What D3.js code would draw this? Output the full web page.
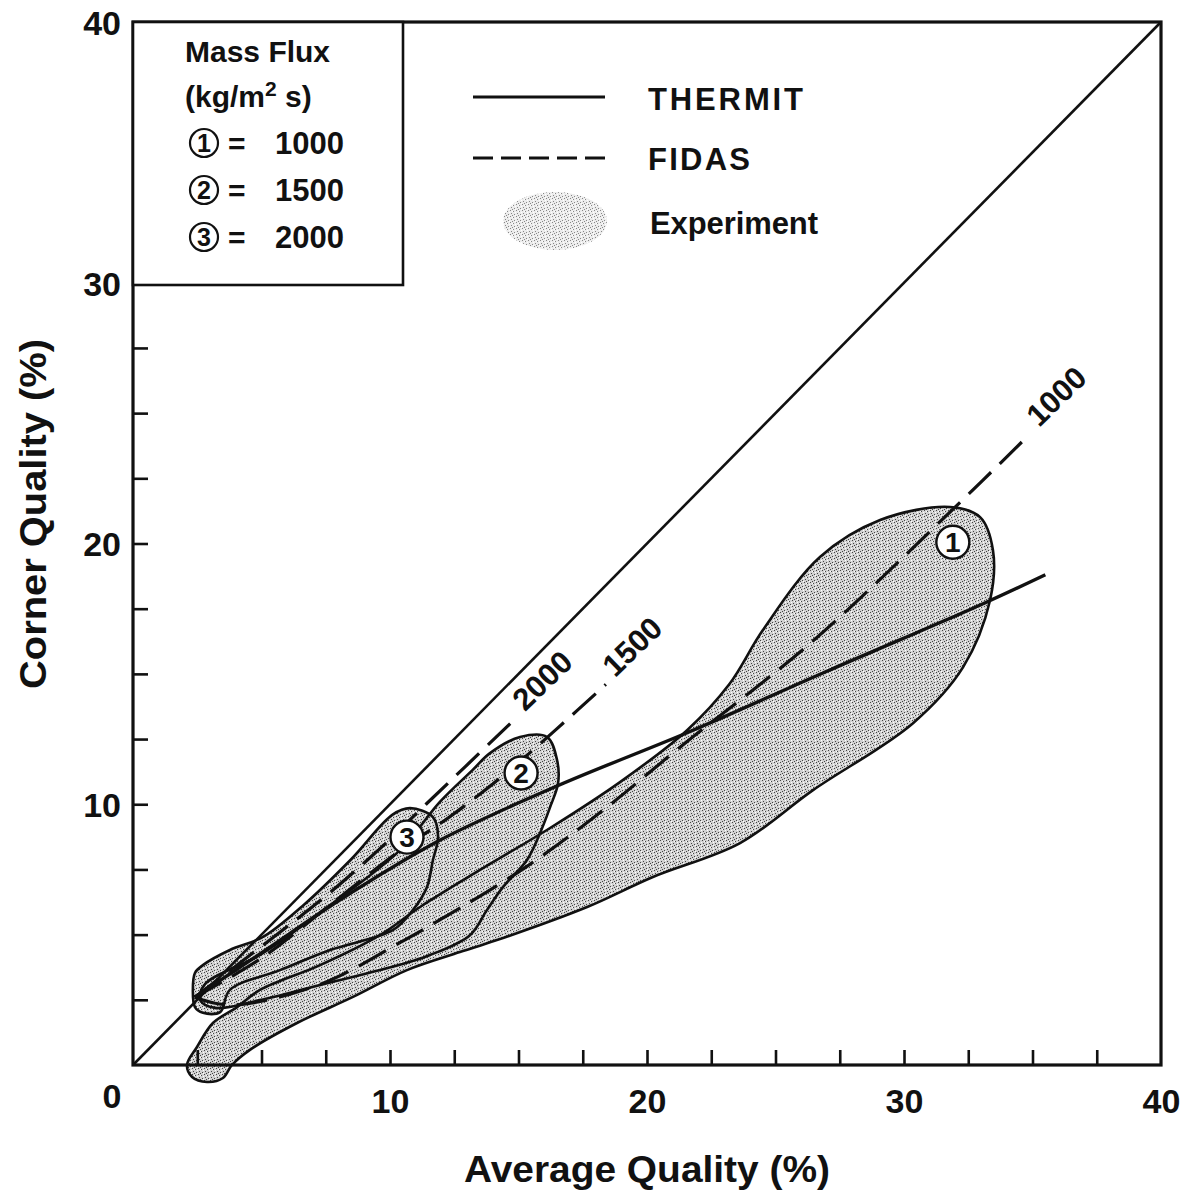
<!DOCTYPE html>
<html>
<head>
<meta charset="utf-8">
<script src="https://cdn.jsdelivr.net/npm/d3@7"></script>
<style>
  body { margin: 0; background: #fff; }
  text { font-family: "Liberation Sans", Arial, sans-serif; font-weight: bold; fill: #111; }
</style>
</head>
<body>
<script>
// ---- data (percent) ----
var diagonal = [[0, 0], [40, 40]];

var thermit1000 = [[2.4, 2.6], [5, 4.3], [8, 6.3], [11.9, 8.6], [16.5, 10.7], [21.7, 12.8], [27, 15.1], [33.1, 17.7], [35.5, 18.8]];

var fidas1000 = [[2.4, 2.6], [3.8, 2.3], [7.3, 3.1], [10.4, 4.7], [12, 5.6], [15.3, 7.6], [18.2, 9.7], [21.3, 12.2], [26.5, 16.3], [32.1, 21.5], [34.9, 24.2]];
var fidas1500 = [[2.4, 2.6], [5, 4.1], [8, 6.4], [10.5, 8.3], [12.3, 9.5], [14.4, 11.1], [16.5, 12.9], [18.4, 14.6]];
var fidas2000 = [[2.4, 2.6], [5.2, 4.7], [7.4, 6.4], [9.5, 8.2], [11.4, 10.0], [14.9, 13.3]];
var fidasLabels = ["1000", "1500", "2000"];

// experiment envelopes
var region1 = [[2.1, 0.0], [2.3, -0.46], [2.88, -0.65], [3.5, -0.5], [3.85, 0.0], [4.55, 0.58], [6.38, 1.61], [8.56, 2.61],
  [10.66, 3.64], [12.72, 4.33], [14.16, 4.79], [17.67, 6.06], [20.23, 7.21], [23.62, 8.51], [26.46, 10.54], [30.35, 13.11],
  [32.3, 15.26], [33.35, 17.83], [33.46, 19.75], [32.96, 21.01], [31.79, 21.4], [29.07, 20.9], [26.73, 19.48], [24.51, 16.68],
  [23.2, 14.6], [21.56, 12.84], [18.95, 10.85], [16.23, 9.09], [13.5, 7.48], [11.17, 6.06], [9.61, 4.98], [7.28, 3.83],
  [4.94, 2.88], [4.05, 2.22], [3.11, 1.61], [2.49, 0.69]];
var region2 = [[2.8, 3.1], [4.94, 4.22], [7.67, 6.13], [10.39, 8.24], [11.95, 10.1], [13.2, 11.3], [13.89, 11.96], [15.06, 12.58],
  [16.11, 12.58], [16.5, 11.7], [16.54, 10.81], [16.23, 9.89], [15.84, 8.9], [15.33, 7.86], [14.4, 6.83], [13.77, 5.94],
  [13.11, 4.98], [11.56, 4.22], [9.61, 3.64], [7.28, 3.07], [4.94, 2.49], [3.19, 2.19], [2.61, 2.49]];
var region3 = [[2.72, 3.83], [3.77, 4.41], [5.06, 4.91], [6.6, 6.1], [8.5, 7.9], [10.1, 9.6], [10.78, 9.85], [11.67, 9.51],
  [11.87, 8.74], [11.67, 7.86], [11.44, 6.83], [10.89, 5.94], [10.12, 5.18], [7.67, 4.41], [5.72, 3.64], [3.77, 2.88],
  [3.39, 2.03], [2.72, 2.0], [2.41, 2.22], [2.33, 2.88], [2.41, 3.53]];

// circled set numbers inside the plot
var setMarks = [[31.9, 20.05, "1"], [15.1, 11.2, "2"], [10.66, 8.74, "3"]];
var massFlux = [["1", "1000"], ["2", "1500"], ["3", "2000"]];

var minorTicks = d3.range(2.5, 40, 2.5);
var tickLabels = [10, 20, 30, 40];

// ---- layout ----
var W = 1189, H = 1196;
var x = d3.scaleLinear().domain([0, 40]).range([133, 1161]);
var y = d3.scaleLinear().domain([0, 40]).range([1065, 22]);

var svg = d3.select("body").append("svg")
    .attr("width", W)
    .attr("height", H);

// stipple pattern for the experiment areas
var defs = svg.append("defs");
function stipple(id, bg, dark) {
  var p = defs.append("pattern")
      .attr("id", id)
      .attr("width", 6).attr("height", 6)
      .attr("patternUnits", "userSpaceOnUse");
  p.append("rect").attr("width", 6).attr("height", 6).attr("fill", bg);
  [[0, 0], [3, 1], [1, 3], [4, 4], [2, 5]].forEach(function(d) {
    p.append("rect").attr("x", d[0]).attr("y", d[1]).attr("width", 1).attr("height", 1).attr("fill", dark);
  });
  [[2, 1], [5, 5], [5, 2]].forEach(function(d) {
    p.append("rect").attr("x", d[0]).attr("y", d[1]).attr("width", 1).attr("height", 1).attr("fill", "#fff");
  });
}
stipple("stip", "#d2d2d2", "#444");
stipple("stipLight", "#ececec", "#888");

var line = d3.line()
    .x(function(d) { return x(d[0]); })
    .y(function(d) { return y(d[1]); })
    .curve(d3.curveCatmullRom.alpha(0.5));
var loopLine = d3.line()
    .x(function(d) { return x(d[0]); })
    .y(function(d) { return y(d[1]); })
    .curve(d3.curveCatmullRomClosed.alpha(0.5));

var regions = [region1, region2, region3];

// fills first, outlines on top so every boundary shows
svg.selectAll(".area")
    .data(regions)
  .enter().append("path")
    .attr("class", "area")
    .attr("d", function(d) { return loopLine(d); })
    .attr("fill", "url(#stip)");
svg.selectAll(".outline")
    .data(regions)
  .enter().append("path")
    .attr("class", "outline")
    .attr("d", function(d) { return loopLine(d); })
    .attr("fill", "none")
    .attr("stroke", "#111")
    .attr("stroke-width", 2.6);

// y = x
svg.append("path")
    .attr("d", d3.line().x(function(d) { return x(d[0]); }).y(function(d) { return y(d[1]); })(diagonal))
    .attr("fill", "none").attr("stroke", "#111").attr("stroke-width", 2.6);

// FIDAS dashed
var fidas = [fidas1000, fidas1500, fidas2000];
svg.selectAll(".fidas")
    .data(fidas)
  .enter().append("path")
    .attr("class", "fidas")
    .attr("d", function(d) { return line(d); })
    .attr("fill", "none")
    .attr("stroke", "#111")
    .attr("stroke-width", 3.2)
    .attr("stroke-dasharray", "31,12");

// THERMIT solid
svg.append("path")
    .attr("d", line(thermit1000))
    .attr("fill", "none").attr("stroke", "#111").attr("stroke-width", 3.4);

// flux labels at the end of each FIDAS curve
svg.selectAll(".flabel")
    .data(fidas)
  .enter().append("text")
    .attr("class", "flabel")
    .attr("transform", function(d) {
      var e = d[d.length - 1];
      return "translate(" + (x(e[0]) + 9) + "," + (y(e[1]) - 6) + ") rotate(-44)";
    })
    .style("font-size", "31px")
    .text(function(d, i) { return fidasLabels[i]; });

// circled set numbers
var marks = svg.selectAll(".mark")
    .data(setMarks)
  .enter().append("g")
    .attr("class", "mark")
    .attr("transform", function(d) { return "translate(" + x(d[0]) + "," + y(d[1]) + ")"; });
marks.append("circle").attr("r", 16.5).attr("fill", "#fff").attr("stroke", "#111").attr("stroke-width", 2.4);
marks.append("text")
    .attr("text-anchor", "middle").attr("dy", "0.36em")
    .style("font-size", "28px")
    .text(function(d) { return d[2]; });

// ---- axes ----
var tickAxisX = d3.axisBottom(x).tickValues(minorTicks).tickSizeInner(-15).tickSizeOuter(0).tickFormat("");
var tickAxisY = d3.axisLeft(y).tickValues(minorTicks).tickSizeInner(-15).tickSizeOuter(0).tickFormat("");
svg.append("g").attr("transform", "translate(0," + y(0) + ")").call(tickAxisX);
svg.append("g").attr("transform", "translate(" + x(0) + ",0)").call(tickAxisY);

var labelAxisX = d3.axisBottom(x).tickValues(tickLabels).tickSize(0).tickPadding(24);
var labelAxisY = d3.axisLeft(y).tickValues(tickLabels).tickSize(0).tickPadding(12);
svg.append("g").attr("class", "lx").attr("transform", "translate(0," + y(0) + ")").call(labelAxisX);
svg.append("g").attr("class", "ly").attr("transform", "translate(" + x(0) + ",0)").call(labelAxisY);
svg.selectAll(".lx text, .ly text")
    .style("font-family", "'Liberation Sans', Arial, sans-serif")
    .style("font-weight", "bold")
    .style("font-size", "34px")
    .attr("fill", "#111");
svg.selectAll(".ly text").attr("dy", "0.36em");
svg.selectAll(".tick line").attr("stroke", "#111").attr("stroke-width", 2.6);
svg.selectAll(".domain").remove();

// shared origin label
svg.append("text")
    .attr("x", x(0) - 21).attr("y", y(0) + 43)
    .attr("text-anchor", "middle")
    .style("font-size", "34px")
    .text("0");

// plot frame
svg.append("rect")
    .attr("x", x(0)).attr("y", y(40))
    .attr("width", x(40) - x(0)).attr("height", y(0) - y(40))
    .attr("fill", "none").attr("stroke", "#111").attr("stroke-width", 3.2);

// axis titles
svg.append("text")
    .attr("x", (x(0) + x(40)) / 2).attr("y", 1182)
    .attr("text-anchor", "middle")
    .attr("textLength", 366).attr("lengthAdjust", "spacingAndGlyphs")
    .style("font-size", "36px")
    .text("Average Quality (%)");
svg.append("text")
    .attr("transform", "translate(46,514) rotate(-90)")
    .attr("text-anchor", "middle")
    .attr("textLength", 350).attr("lengthAdjust", "spacingAndGlyphs")
    .style("font-size", "36px")
    .text("Corner Quality (%)");

// ---- mass flux box ----
svg.append("rect")
    .attr("x", x(0)).attr("y", y(40))
    .attr("width", 270).attr("height", 263)
    .attr("fill", "#fff").attr("stroke", "#111").attr("stroke-width", 2.6);
svg.append("text").attr("x", 185).attr("y", 62).style("font-size", "30px").text("Mass Flux");
var unit = svg.append("text").attr("x", 185).attr("y", 107).style("font-size", "30px");
unit.append("tspan").text("(kg/m");
unit.append("tspan").attr("dy", -11).style("font-size", "21px").text("2");
unit.append("tspan").attr("dy", 11).text(" s)");

var rows = svg.selectAll(".fluxrow")
    .data(massFlux)
  .enter().append("g")
    .attr("class", "fluxrow")
    .attr("transform", function(d, i) { return "translate(0," + (143 + i * 47) + ")"; });
rows.append("circle").attr("cx", 204).attr("r", 14).attr("fill", "#fff").attr("stroke", "#111").attr("stroke-width", 2.2);
rows.append("text").attr("x", 204).attr("dy", "0.36em").attr("text-anchor", "middle")
    .style("font-size", "25px").text(function(d) { return d[0]; });
rows.append("text").attr("x", 228).attr("dy", "0.36em").style("font-size", "30px").text("=");
rows.append("text").attr("x", 275).attr("dy", "0.36em").style("font-size", "31px").text(function(d) { return d[1]; });

// ---- model legend ----
svg.append("line").attr("x1", 473).attr("x2", 605).attr("y1", 97).attr("y2", 97)
    .attr("stroke", "#111").attr("stroke-width", 3.2);
svg.append("line").attr("x1", 473).attr("x2", 605).attr("y1", 158).attr("y2", 158)
    .attr("stroke", "#111").attr("stroke-width", 3.2).attr("stroke-dasharray", "20,8");
svg.append("ellipse").attr("cx", 555).attr("cy", 221).attr("rx", 52).attr("ry", 29)
    .attr("fill", "url(#stipLight)");
svg.append("text").attr("x", 648).attr("y", 110).attr("textLength", 155).style("font-size", "31px").text("THERMIT");
svg.append("text").attr("x", 648).attr("y", 170).attr("textLength", 102).style("font-size", "31px").text("FIDAS");
svg.append("text").attr("x", 650).attr("y", 234).attr("textLength", 168).style("font-size", "31px").text("Experiment");
</script>
</body>
</html>
